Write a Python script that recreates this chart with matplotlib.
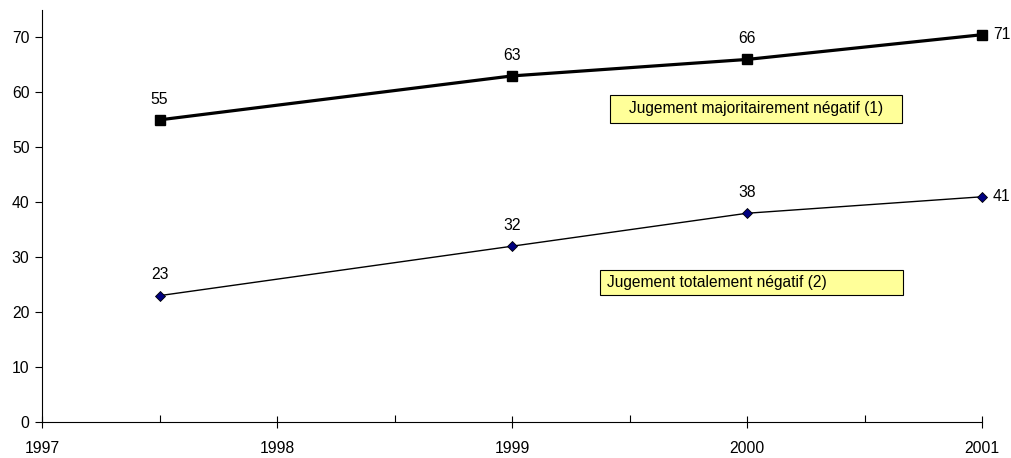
import numpy as np
import matplotlib
matplotlib.use("Agg")
import matplotlib.pyplot as plt
from matplotlib.patches import Rectangle

plt.rcParams['font.family'] = ['Liberation Sans', 'DejaVu Sans']

# data
years = [1997.5, 1999, 2000, 2001]
majoritaire = [55, 63, 66, 70.5]
majoritaire_labels = ["55", "63", "66", "71"]
totalement = [23, 32, 38, 41]
totalement_labels = ["23", "32", "38", "41"]
year_ticks = [1997, 1998, 1999, 2000, 2001]
y_ticks = [0, 10, 20, 30, 40, 50, 60, 70]

fig = plt.figure(figsize=(10.12, 4.58), dpi=100)
ax = fig.add_axes([42 / 1012, 36 / 458, 940 / 1012, 412 / 458])

ax.plot(years, majoritaire, color='black', lw=2.3, marker='s', ms=6.5,
        mfc='black', mec='black', clip_on=False, zorder=3)
ax.plot(years, totalement, color='black', lw=1.0, marker='D', ms=5,
        mfc='#000080', mec='black', mew=0.6, clip_on=False, zorder=3)

# data labels (last point labelled on the right)
for series, labels in [(majoritaire, majoritaire_labels), (totalement, totalement_labels)]:
    for i, (x, y) in enumerate(zip(years, series)):
        if i == len(years) - 1:
            ax.annotate(labels[i], (x, y), xytext=(8, 0), textcoords='offset points',
                        ha='left', va='center', fontsize=11.3)
        else:
            ax.annotate(labels[i], (x, y), xytext=(0, 15), textcoords='offset points',
                        ha='center', va='center', fontsize=11.3)

ax.set_xlim(1997, 2001)
ax.set_ylim(0, 75)
ax.set_xticks(year_ticks)
ax.set_xticklabels([str(y) for y in year_ticks])
ax.set_xticks(np.arange(1997.5, 2001, 1), minor=True)
ax.set_yticks(y_ticks)

ax.spines['top'].set_visible(False)
ax.spines['right'].set_visible(False)
ax.tick_params(axis='x', which='major', direction='inout', length=8, width=0.8,
               pad=10, labelsize=11.3)
ax.tick_params(axis='x', which='minor', direction='in', length=5, width=0.8)
ax.tick_params(axis='y', direction='out', length=5, width=0.8, pad=4, labelsize=11.3)

# annotation boxes
ax.add_patch(Rectangle((568 / 940, (458 - 123 - 36) / 412), 292 / 940, 28 / 412,
                       transform=ax.transAxes, facecolor='#FFFF99',
                       edgecolor='black', lw=0.8, zorder=4))
ax.text((568 + 146) / 940, (458 - 109 - 36) / 412, "Jugement majoritairement négatif (1)",
        transform=ax.transAxes, ha='center', va='center', fontsize=11.2, zorder=5)
ax.add_patch(Rectangle((558 / 940, (458 - 295 - 36) / 412), 303 / 940, 25 / 412,
                       transform=ax.transAxes, facecolor='#FFFF99',
                       edgecolor='black', lw=0.8, zorder=4))
ax.text(565 / 940, (458 - 283 - 36) / 412, "Jugement totalement négatif (2)",
        transform=ax.transAxes, ha='left', va='center', fontsize=11.2, zorder=5)

fig.savefig('out.png', dpi=100)
